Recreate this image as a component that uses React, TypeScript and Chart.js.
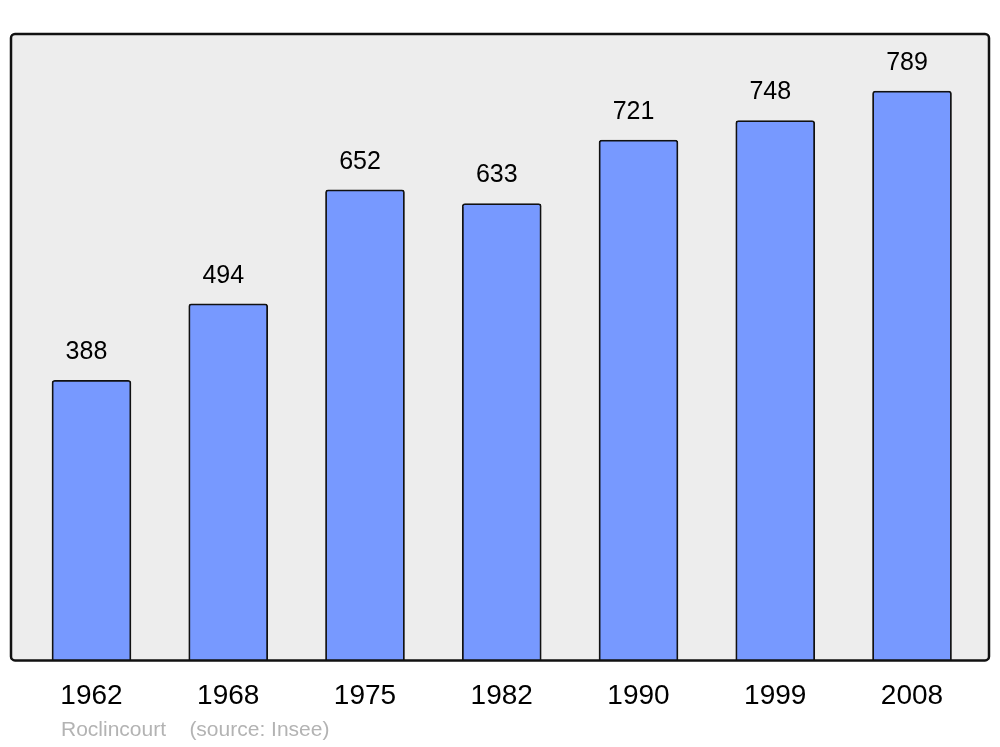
import React, { useEffect, useRef } from "react";
import { Chart, registerables } from "chart.js";

Chart.register(...registerables);

const years = ["1962", "1968", "1975", "1982", "1990", "1999", "2008"];
const population = [388, 494, 652, 633, 721, 748, 789];
const footerText = "Roclincourt    (source: Insee)";

const FONT = "'Liberation Sans', Arial, sans-serif";

const framePlugin = {
  id: "frame",
  beforeDatasetsDraw(chart: any) {
    const { ctx, chartArea } = chart;
    const { left, top, right, bottom } = chartArea;
    ctx.save();
    ctx.beginPath();
    ctx.roundRect(left, top, right - left, bottom - top, 4);
    ctx.fillStyle = "#ededed";
    ctx.fill();
    ctx.restore();
  },
  afterDatasetsDraw(chart: any) {
    const { ctx, chartArea } = chart;
    const { left, top, right, bottom } = chartArea;
    ctx.save();
    ctx.beginPath();
    ctx.roundRect(left, top, right - left, bottom - top, 4);
    ctx.lineWidth = 2.5;
    ctx.strokeStyle = "#111111";
    ctx.stroke();

    // value labels
    const meta = chart.getDatasetMeta(0);
    ctx.fillStyle = "#000000";
    ctx.font = `25px ${FONT}`;
    ctx.textAlign = "center";
    ctx.textBaseline = "middle";
    meta.data.forEach((bar: any, i: number) => {
      ctx.fillText(String(population[i]), bar.x - 5, bar.y - 28);
    });

    // footer
    ctx.fillStyle = "#b3b3b3";
    ctx.font = `21px ${FONT}`;
    ctx.textAlign = "left";
    ctx.fillText(footerText, left + 50, 730);
    ctx.restore();
  },
};

export default function App() {
  const ref = useRef<HTMLCanvasElement>(null);
  useEffect(() => {
    document.body.style.margin = "0";
    const canvas = ref.current!;
    const chart = new Chart(canvas, {
      type: "bar",
      data: {
        datasets: [
          {
            data: population.map((v, i) => ({ x: i, y: v })),
            backgroundColor: "#7799ff",
            borderColor: "#111111",
            borderWidth: 1.8,
            borderRadius: 3,
            borderSkipped: "bottom",
            barThickness: 79,
          },
        ],
      },
      options: {
        animation: false,
        responsive: false,
        layout: { padding: { top: 34, left: 11, right: 11, bottom: 23 } },
        plugins: {
          legend: { display: false },
          tooltip: { enabled: false },
          title: { display: false },
        },
        scales: {
          x: {
            type: "linear",
            offset: false,
            min: -0.5885,
            max: 6.563,
            grid: { display: false, offset: false },
            border: { display: false },
            afterBuildTicks: (axis: any) => {
              axis.ticks = years.map((_, i) => ({ value: i }));
            },
            ticks: {
              padding: 11,
              color: "#000000",
              font: { family: FONT, size: 28 },
              callback: (v: any) => years[v] ?? "",
            },
          },
          y: {
            display: false,
            min: 0,
            max: 868,
          },
        },
      },
      plugins: [framePlugin],
    });
    return () => chart.destroy();
  }, []);
  return <canvas ref={ref} width={1000} height={747} style={{ display: "block" }} />;
}
